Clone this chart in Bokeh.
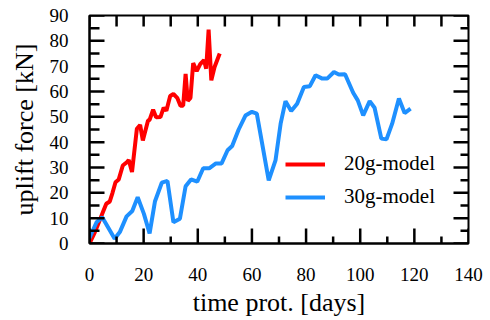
from bokeh.plotting import figure
from bokeh.models import FixedTicker, Legend, LegendItem, Range1d
from bokeh.embed import file_html
from bokeh.resources import INLINE

# 20g-model
days_20 = [0, 2, 4, 5, 6.2, 7.5, 8.5, 9.6, 10.8, 12.3, 13.9, 14.5, 15.7, 17.5, 18.7, 19.7,
           21.6, 22.2, 23.5, 24.6, 26.2, 27.4, 28.4, 29.8, 31.0, 32.4, 33.6, 34.6, 35.5,
           36.3, 37.3, 38.3, 39.6, 40.9, 42.3, 43.1, 44.0, 45.0, 46.2, 48.1]
force_20 = [0, 4.5, 9.8, 12.5, 15.7, 16.6, 20.0, 24.2, 25.3, 30.8, 32.2, 33.0, 28.2, 45.3, 46.8, 40.7,
            48.5, 48.8, 52.8, 49.8, 49.9, 53.6, 52.4, 58.2, 59.0, 57.5, 54.4, 54.4, 66.9,
            56.3, 57.5, 71.2, 68.0, 70.8, 72.4, 69.0, 84.4, 64.4, 69.7, 75.0]

# 30g-model
days_30 = [0, 2.6, 4.7, 9.3, 11.2, 13.7, 15.8, 17.8, 20.1, 22.2, 24.2, 26.7, 28.8, 31.0, 33.4,
           35.5, 37.5, 39.8, 42.0, 44.2, 46.7, 48.8, 51.0, 52.7, 55.1, 57.6, 60.0, 61.8,
           66.2, 68.7, 70.6, 72.4, 74.5, 76.7, 79.2, 81.4, 83.5, 86.0, 87.8, 90.3, 92.1,
           94.4, 97.4, 99.1, 101.1, 103.5, 105.3, 107.8, 109.7, 111.8, 114.3, 116.4, 118.6]
force_30 = [2.2, 8.4, 10.4, 1.9, 4.5, 10.7, 12.8, 18.3, 11.7, 4.0, 16.7, 24.0, 24.7, 8.4, 9.8,
            22.6, 25.3, 24.4, 29.7, 29.7, 31.6, 31.6, 36.8, 38.5, 45.0, 50.5, 52.0, 51.3,
            24.9, 32.8, 47.3, 56.2, 52.3, 55.2, 61.8, 62.1, 66.4, 65.1, 65.1, 67.7, 66.7,
            66.8, 59.5, 56.5, 50.6, 56.2, 53.6, 41.4, 41.1, 47.3, 57.2, 51.5, 53.2]

series_names = ["20g-model", "30g-model"]
series_colors = ["#ff0000", "#1e90ff"]

x_major_ticks = [0, 20, 40, 60, 80, 100, 120, 140]
x_minor_ticks = [10, 30, 50, 70, 90, 110, 130]
y_major_ticks = [0, 10, 20, 30, 40, 50, 60, 70, 80, 90]
y_minor_ticks = [5, 15, 25, 35, 45, 55, 65, 75, 85]

FONT = "Liberation Serif"
W, H = 490, 320
BL, BR, BT, BB = 89, 22, 15, 77
X0, X1, Y0, Y1 = 0, 140, 0, 90

p = figure(width=W, height=H, output_backend="svg", toolbar_location=None,
           x_range=Range1d(X0, X1), y_range=Range1d(Y0, Y1),
           min_border_left=BL, min_border_right=BR, min_border_top=BT, min_border_bottom=BB)
p.xgrid.grid_line_color = None
p.ygrid.grid_line_color = None
p.outline_line_color = "black"
p.outline_line_width = 2

r20 = p.line(days_20, force_20, line_color=series_colors[0], line_width=4)
r30 = p.line(days_30, force_30, line_color=series_colors[1], line_width=4)

# data units per screen pixel
dx = (X1 - X0) / (W - BL - BR)
dy = (Y1 - Y0) / (H - BT - BB)

TICK_COLOR = "black"
TICK_W = 2.5

def ticks_x(vals, base, length_px, direction):
    n = len(vals)
    p.segment(x0=vals, y0=[base] * n, x1=vals, y1=[base + direction * length_px * dy] * n,
              line_color=TICK_COLOR, line_width=TICK_W)

def ticks_y(vals, base, length_px, direction):
    n = len(vals)
    p.segment(x0=[base] * n, y0=vals, x1=[base + direction * length_px * dx] * n, y1=vals,
              line_color=TICK_COLOR, line_width=TICK_W)

ticks_x(x_major_ticks, Y0, 15, 1)
ticks_x(x_minor_ticks, Y0, 7, 1)
ticks_x(x_major_ticks, Y1, 11, -1)
ticks_x(x_minor_ticks, Y1, 11, -1)
ticks_y(y_major_ticks, X0, 15, 1)
ticks_y(y_minor_ticks, X0, 10, 1)
ticks_y(y_major_ticks, X1, 15, -1)
ticks_y(y_minor_ticks, X1, 8, -1)

def style_axis(ax):
    ax.axis_line_color = "black"
    ax.axis_line_width = 2
    ax.major_tick_in = 0
    ax.major_tick_out = 0
    ax.minor_tick_in = 0
    ax.minor_tick_out = 0
    ax.major_label_text_font = FONT
    ax.major_label_text_font_size = "19px"
    ax.major_label_text_color = "black"
    ax.axis_label_text_font = FONT
    ax.axis_label_text_font_size = "26px"
    ax.axis_label_text_font_style = "normal"
    ax.axis_label_text_color = "black"

p.xaxis.ticker = FixedTicker(ticks=x_major_ticks, minor_ticks=x_minor_ticks)
p.yaxis.ticker = FixedTicker(ticks=y_major_ticks, minor_ticks=y_minor_ticks)
style_axis(p.xaxis[0])
style_axis(p.yaxis[0])
p.xaxis.axis_label = "time prot. [days]"
p.yaxis.axis_label = "uplift force [kN]"
p.xaxis.major_label_standoff = 24
p.yaxis.major_label_standoff = 21
p.xaxis.axis_label_standoff = 4
p.yaxis.axis_label_standoff = 8

legend = Legend(items=[LegendItem(label=series_names[0], renderers=[r20]),
                       LegendItem(label=series_names[1], renderers=[r30])],
                location=(196, 34))
legend.border_line_color = None
legend.background_fill_alpha = 0
legend.label_text_font = FONT
legend.label_text_font_size = "21px"
legend.label_text_color = "black"
legend.glyph_width = 40
legend.glyph_height = 20
legend.label_height = 20
legend.spacing = 8
legend.padding = 0
legend.margin = 0
legend.label_standoff = 19
p.add_layout(legend)

open("out.html", "w").write(file_html(p, INLINE))
